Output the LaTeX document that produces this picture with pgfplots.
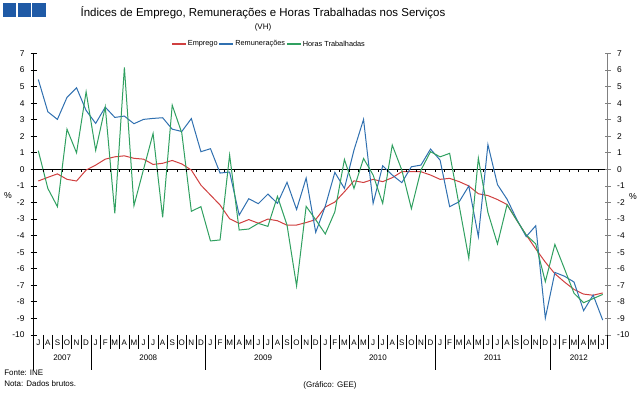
\documentclass[border=0pt]{standalone}
\usepackage{pgfplots}
\pgfplotsset{compat=1.18}
\usepackage{pgfplotstable}
\usepackage{fontspec}
\setmainfont{Liberation Sans}
\definecolor{cred}{RGB}{208,64,64}
\definecolor{cblue}{RGB}{48,112,176}
\definecolor{cgreen}{RGB}{48,160,96}
\definecolor{cbox}{RGB}{31,90,166}

\pgfplotstableread{
k emp rem hor
0.5 -0.70 5.43 1.13
1.5 -0.48 3.48 -1.15
2.5 -0.27 3.02 -2.25
3.5 -0.60 4.35 2.43
4.5 -0.70 4.93 1.00
5.5 -0.04 3.56 4.69
6.5 0.26 2.78 1.15
7.5 0.62 3.76 3.78
8.5 0.76 3.14 -2.66
9.5 0.82 3.22 6.16
10.5 0.67 2.76 -2.19
11.5 0.62 3.02 0.00
12.5 0.30 3.08 2.17
13.5 0.37 3.12 -2.90
14.5 0.54 2.43 3.88
15.5 0.33 2.29 2.20
16.5 -0.04 3.07 -2.53
17.5 -0.95 1.07 -2.25
18.5 -1.55 1.25 -4.32
19.5 -2.15 -0.22 -4.26
20.5 -2.98 -0.16 0.87
21.5 -3.26 -2.76 -3.66
22.5 -3.03 -1.77 -3.60
23.5 -3.25 -2.07 -3.26
24.5 -3.00 -1.49 -3.44
25.5 -3.10 -2.05 -1.63
26.5 -3.37 -0.78 -3.36
27.5 -3.36 -2.42 -7.04
28.5 -3.21 -0.52 -2.23
29.5 -3.03 -3.80 -3.04
30.5 -2.27 -2.22 -3.90
31.5 -1.97 -0.18 -2.56
32.5 -1.35 -1.15 0.60
33.5 -0.69 1.17 -1.15
34.5 -0.79 3.02 0.66
35.5 -0.60 -2.05 -0.34
36.5 -0.74 0.22 -2.05
37.5 -0.50 -0.34 1.47
38.5 -0.14 -0.80 -0.04
39.5 -0.14 0.16 -2.37
40.5 -0.14 0.26 -0.04
41.5 -0.34 1.23 1.07
42.5 -0.60 0.56 0.76
43.5 -0.54 -2.25 0.97
44.5 -0.74 -1.95 -2.20
45.5 -1.00 -1.00 -5.37
46.5 -1.47 -4.06 0.68
47.5 -1.58 1.50 -2.60
48.5 -1.82 -0.92 -4.50
49.5 -2.12 -1.80 -2.13
50.5 -3.06 -3.00 -3.06
51.5 -3.96 -4.06 -3.96
52.5 -4.80 -3.40 -4.50
53.5 -5.60 -8.98 -6.78
54.5 -6.30 -6.22 -4.53
55.5 -6.80 -6.45 -6.00
56.5 -7.25 -6.80 -7.48
57.5 -7.53 -8.53 -8.05
58.5 -7.60 -7.59 -7.80
59.5 -7.46 -9.10 -7.55
}\datatable

\begin{document}
\begin{tikzpicture}[x=0.75pt,y=0.75pt]
\useasboundingbox (0,0) rectangle (642,395);
% header boxes
\fill[cbox] (3,392) rectangle (16,378);
\fill[cbox] (17.5,392) rectangle (30.5,378);
\fill[cbox] (32,392) rectangle (46,378);
\node[font=\fontsize{8.6}{10}\selectfont] at (263,382) {Índices de Emprego, Remunerações e Horas Trabalhadas nos Serviços};
\node[font=\fontsize{6}{7}\selectfont] at (263,368) {(VH)};

\begin{axis}[
  at={(25.125pt,45pt)}, anchor=south west,
  scale only axis, width=430.5pt, height=211.125pt,
  xmin=0, xmax=60, ymin=-10, ymax=7,
  axis x line=none, axis y line=left,
  axis line style={-, black, line width=0.6pt},
  ytick={-10,...,7}, xtick=\empty,
  tick align=center, major tick length=4.5pt,
  tick style={black, line width=0.6pt},
  yticklabel style={font=\fontsize{6.3}{7}\selectfont, xshift=-1pt},
  /pgf/number format/assume math mode=true,
  extra y ticks={0}, extra y tick labels={},
  extra y tick style={grid=major, major grid style={black, line width=1pt}},
  clip=false,
]
\addplot[color=cred, line width=0.75pt] table[x=k,y=emp]{\datatable};
\addplot[color=cblue, line width=0.75pt] table[x=k,y=rem]{\datatable};
\addplot[color=cgreen, line width=0.75pt] table[x=k,y=hor]{\datatable};
\pgfplotsinvokeforeach{1,...,59}{\draw[black, line width=0.6pt] (axis cs:#1,0) -- ([yshift=-2.2pt]axis cs:#1,0);}
\end{axis}

\begin{axis}[
  at={(25.125pt,45pt)}, anchor=south west,
  scale only axis, width=430.5pt, height=211.125pt,
  xmin=0, xmax=60, ymin=-10, ymax=7,
  axis x line=none, axis y line*=right,
  axis line style={-, gray, line width=1pt},
  ytick={-10,...,7}, xtick=\empty,
  tick align=center, major tick length=4.5pt,
  tick style={gray, line width=0.6pt},
  yticklabel style={font=\fontsize{6.3}{7}\selectfont, xshift=1.5pt},
  /pgf/number format/assume math mode=true,
]
\end{axis}

% legend
\begin{scope}[every node/.style={font=\fontsize{5.5}{6.5}\selectfont, anchor=west, inner xsep=1pt, inner ysep=0pt, text=black}]
\draw[cred, line width=0.8pt] (172,351) -- ++(14,0) node (t1) {Emprego};
\draw[cblue, line width=0.8pt] (t1.east) -- ++(14,0) node (t2) {Remunerações};
\draw[cgreen, line width=0.8pt] (t2.east) -- ++(14,0) node (t3) {Horas Trabalhadas};
\end{scope}

% category axis
\draw[black, line width=0.6pt] (33.5,60) -- (33.5,25);
\foreach \i in {1,...,60}{\draw[black, line width=0.5pt] ({33.5+9.5667*\i},60) -- ({33.5+9.5667*\i},46);}
\foreach \i in {6,18,30,42,54}{\draw[black, line width=0.6pt] ({33.5+9.5667*\i},60) -- ({33.5+9.5667*\i},25);}
\foreach \l [count=\i from 0] in {J,A,S,O,N,D,J,F,M,A,M,J,J,A,S,O,N,D,J,F,M,A,M,J,J,A,S,O,N,D,J,F,M,A,M,J,J,A,S,O,N,D,J,F,M,A,M,J,J,A,S,O,N,D,J,F,M,A,M,J}{
  \node[font=\fontsize{6}{7}\selectfont, inner sep=0pt] at ({33.5+9.5667*(\i+0.5)},52) {\l};}
\foreach \y/\c in {2007/3,2008/12,2009/24,2010/36,2011/48,2012/57}{
  \node[font=\fontsize{6}{7}\selectfont, inner sep=0pt] at ({33.5+9.5667*\c},37) {\y};}

\node[font=\fontsize{6.5}{7}\selectfont] at (8,199) {\%};
\node[font=\fontsize{6.5}{7}\selectfont] at (633,198) {\%};
\node[font=\fontsize{6}{7}\selectfont, anchor=west, inner sep=0pt] at (4,22) {Fonte: INE};
\node[font=\fontsize{6}{7}\selectfont, anchor=west, inner sep=0pt] at (4,11) {Nota: Dados brutos.};
\node[font=\fontsize{6}{7}\selectfont, inner sep=0pt] at (330,10) {(Gráfico: GEE)};
\end{tikzpicture}
\end{document}
